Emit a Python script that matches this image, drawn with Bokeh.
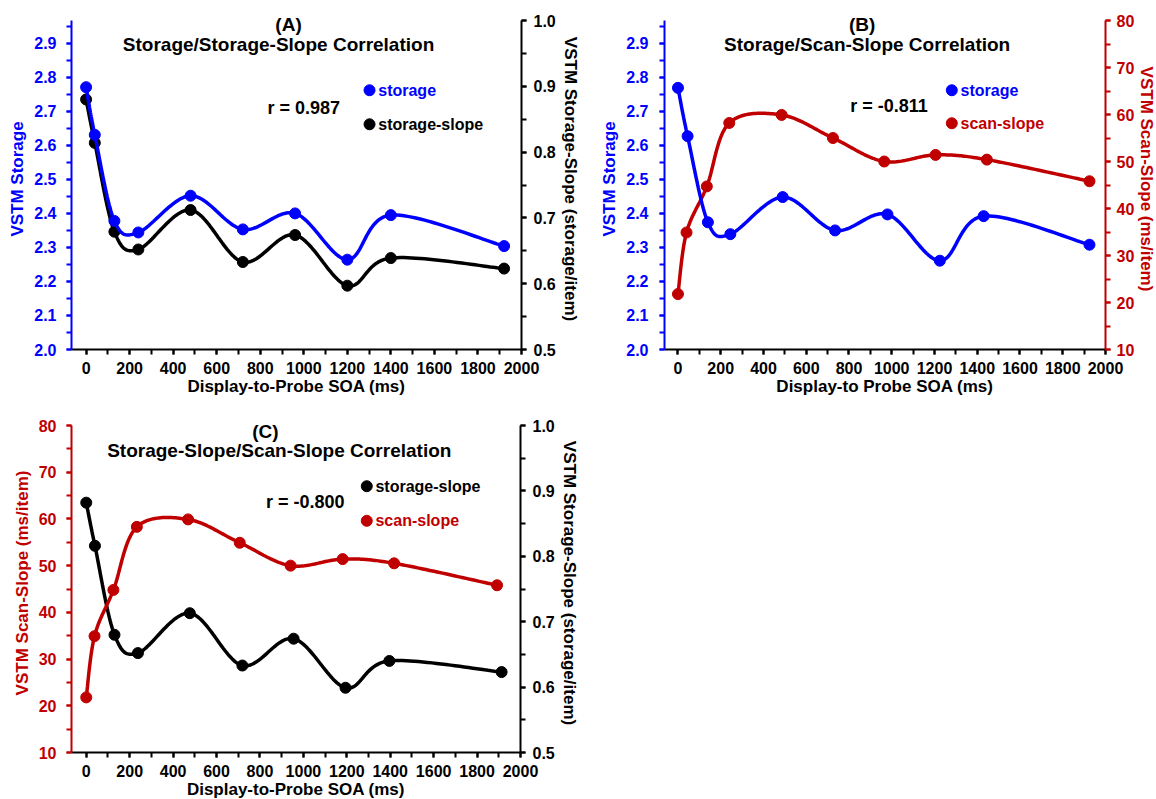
import numpy as np
from bokeh.plotting import figure
from bokeh.models import Range1d, LinearAxis, SingleIntervalTicker, NumeralTickFormatter, Label
from bokeh.layouts import column, row
from bokeh.embed import file_html
from bokeh.resources import INLINE

FONT = "Liberation Sans"
BLUE = "#0000FF"
RED = "#C00000"
BLACK = "#000000"

# ---------------- data ----------------
# Panel A
a_storage_soa = [0, 40, 130, 240, 480, 720, 960, 1200, 1400, 1920]
a_storage = [2.771, 2.631, 2.378, 2.344, 2.452, 2.353, 2.400, 2.264, 2.395, 2.304]
a_slope_soa = [0, 40, 130, 240, 480, 720, 960, 1200, 1400, 1920]
a_storage_slope = [0.880, 0.814, 0.679, 0.652, 0.712, 0.633, 0.674, 0.597, 0.639, 0.623]

# Panel B
b_storage_soa = [0, 45, 140, 245, 490, 735, 980, 1225, 1430, 1925]
b_storage = [2.769, 2.627, 2.374, 2.339, 2.448, 2.350, 2.397, 2.261, 2.392, 2.308]
b_scan_soa = [0, 40, 135, 240, 485, 725, 965, 1205, 1445, 1925]
b_scan_slope = [21.8, 34.9, 44.7, 58.2, 59.9, 55.0, 50.0, 51.4, 50.4, 45.8]

# Panel C
c_slope_soa = [0, 40, 130, 238, 477, 719, 955, 1194, 1396, 1913]
c_storage_slope = [0.882, 0.816, 0.680, 0.652, 0.713, 0.633, 0.674, 0.599, 0.640, 0.623]
c_scan_soa = [0, 38, 125, 233, 469, 707, 941, 1181, 1418, 1892]
c_scan_slope = [21.8, 34.9, 44.8, 58.3, 59.9, 54.9, 50.0, 51.4, 50.5, 45.8]

x_ticks_interval = 200
storage_range = (2.0, 2.967)
slope_range = (0.5, 1.0)
scan_range = (10, 80)

PAD = 12  # extra pixels of (invisible) frame above the axis tops, so the panel titles are not clipped


def smooth(xs, ys, n=30):
    """Excel-like smoothed line (cubic Bezier / Catmull-Rom) through the data points."""
    P = np.column_stack([xs, ys]).astype(float)
    E = np.vstack([P[0], P, P[-1]])
    segs = []
    m = len(P) - 1
    for i in range(m):
        p0, p1, p2, p3 = E[i], E[i + 1], E[i + 2], E[i + 3]
        c1 = p1 + (p2 - p0) / 6.0
        c2 = p2 - (p3 - p1) / 6.0
        t = np.linspace(0, 1, n, endpoint=(i == m - 1))[:, None]
        segs.append((1 - t) ** 3 * p1 + 3 * (1 - t) ** 2 * t * c1 + 3 * (1 - t) * t ** 2 * c2 + t ** 3 * p2)
    S = np.vstack(segs)
    return S[:, 0], S[:, 1]


def ext(rng, axis_px):
    lo, hi = rng
    return (lo, hi + (hi - lo) * PAD / axis_px)


def style_axis(ax, color, label, interval, fmt, label_standoff, axis_label_standoff, bounds=None):
    ax.ticker = SingleIntervalTicker(interval=interval, num_minor_ticks=2)
    ax.formatter = NumeralTickFormatter(format=fmt)
    if bounds is not None:
        ax.bounds = bounds
    ax.axis_line_color = color
    ax.axis_line_width = 2
    ax.major_tick_line_color = color
    ax.major_tick_line_width = 2
    ax.major_tick_in = 0
    ax.major_tick_out = 5
    ax.minor_tick_line_color = color
    ax.minor_tick_line_width = 2
    ax.minor_tick_in = 0
    ax.minor_tick_out = 5
    ax.major_label_text_color = color
    ax.major_label_text_font = FONT
    ax.major_label_text_font_style = "bold"
    ax.major_label_text_font_size = "16px"
    ax.major_label_standoff = label_standoff
    ax.axis_label = label
    ax.axis_label_text_color = color
    ax.axis_label_text_font = FONT
    ax.axis_label_text_font_style = "bold"
    ax.axis_label_text_font_size = "17px"
    ax.axis_label_standoff = axis_label_standoff


def make_fig(xr, yl, yr, fw, axis_px, borders):
    l, r, t, b = borders
    p = figure(frame_width=fw, frame_height=axis_px + PAD, x_range=Range1d(*xr),
               y_range=Range1d(*ext(yl, axis_px)),
               output_backend="svg", toolbar_location=None,
               min_border_left=l, min_border_right=r, min_border_top=t, min_border_bottom=b)
    p.extra_y_ranges = {"right": Range1d(*ext(yr, axis_px))}
    p.outline_line_color = None
    p.xgrid.visible = False
    p.ygrid.visible = False
    p.background_fill_color = "white"
    p.border_fill_color = "white"
    return p


def add_series(p, xs, ys, color, range_name="default"):
    sx, sy = smooth(xs, ys)
    p.line(sx, sy, line_color=color, line_width=3.5, y_range_name=range_name)
    p.scatter(xs, ys, size=11, color=color, y_range_name=range_name)


def add_text(p, x, y, text, size, color=BLACK, align="center"):
    p.add_layout(Label(x=x, y=y, text=text, text_align=align, text_baseline="middle",
                       text_font=FONT, text_font_style="bold", text_font_size=size,
                       text_color=color))


def legend_item(p, x, y, dx, text, color):
    p.scatter([x], [y], size=11, color=color)
    p.add_layout(Label(x=x + dx, y=y, text=text, text_align="left", text_baseline="middle",
                       text_font=FONT, text_font_style="bold", text_font_size="16px",
                       text_color=color))


# ---------------- Panel A ----------------
pA = make_fig((-67, 2000), storage_range, slope_range, 450, 329, (71, 59, 20 - PAD, 51))
style_axis(pA.xaxis[0], BLACK, "Display-to-Probe SOA (ms)", x_ticks_interval, "0", 7, 0)
style_axis(pA.yaxis[0], BLUE, "VSTM Storage", 0.1, "0.0", 10, 4, storage_range)
axA = LinearAxis(y_range_name="right")
style_axis(axA, BLACK, "VSTM Storage-Slope (storage/item)", 0.1, "0.0", 7, 2, slope_range)
pA.add_layout(axA, "right")
add_series(pA, a_slope_soa, a_storage_slope, BLACK, "right")
add_series(pA, a_storage_soa, a_storage, BLUE)
add_text(pA, 930, 2.954, "(A)", "19px")
add_text(pA, 884, 2.895, "Storage/Storage-Slope Correlation", "19px")
add_text(pA, 833, 2.709, "r = 0.987", "18px", align="left")
legend_item(pA, 1302, 2.762, 40, "storage", BLUE)
legend_item(pA, 1302, 2.662, 40, "storage-slope", BLACK)

# ---------------- Panel B ----------------
pB = make_fig((-63, 2000), storage_range, scan_range, 441, 329, (82, 53, 20 - PAD, 51))
style_axis(pB.xaxis[0], BLACK, "Display-to Probe SOA (ms)", x_ticks_interval, "0", 7, 0)
style_axis(pB.yaxis[0], BLUE, "VSTM Storage", 0.1, "0.0", 11, 4, storage_range)
axB = LinearAxis(y_range_name="right")
style_axis(axB, RED, "VSTM Scan-Slope (ms/item)", 10, "0", 6, 0, scan_range)
pB.add_layout(axB, "right")
add_series(pB, b_scan_soa, b_scan_slope, RED, "right")
add_series(pB, b_storage_soa, b_storage, BLUE)
add_text(pB, 862, 2.954, "(B)", "19px")
add_text(pB, 885, 2.895, "Storage/Scan-Slope Correlation", "19px")
add_text(pB, 806, 2.715, "r = -0.811", "18px", align="left")
legend_item(pB, 1281, 2.762, 41, "storage", BLUE)
legend_item(pB, 1281, 2.665, 41, "scan-slope", RED)

# ---------------- Panel C ----------------
pC = make_fig((-68, 2000), scan_range, slope_range, 449, 327, (71, 60, 25 - PAD, 47))
style_axis(pC.xaxis[0], BLACK, "Display-to-Probe SOA (ms)", x_ticks_interval, "0", 7, 0)
style_axis(pC.yaxis[0], RED, "VSTM Scan-Slope (ms/item)", 10, "0", 10, 4, scan_range)
axC = LinearAxis(y_range_name="right")
style_axis(axC, BLACK, "VSTM Storage-Slope (storage/item)", 0.1, "0.0", 7, 2, slope_range)
pC.add_layout(axC, "right")
add_series(pC, c_slope_soa, c_storage_slope, BLACK, "right")
add_series(pC, c_scan_soa, c_scan_slope, RED)
add_text(pC, 825, 78.8, "(C)", "19px")
add_text(pC, 889, 74.6, "Storage-Slope/Scan-Slope Correlation", "19px")
add_text(pC, 828, 63.6, "r = -0.800", "18px", align="left")
legend_item(pC, 1292, 67.0, 40, "storage-slope", BLACK)
legend_item(pC, 1292, 59.6, 40, "scan-slope", RED)

layout = column(row(pA, pB, spacing=0), pC, spacing=0)
open("out.html", "w").write(file_html(layout, INLINE))
